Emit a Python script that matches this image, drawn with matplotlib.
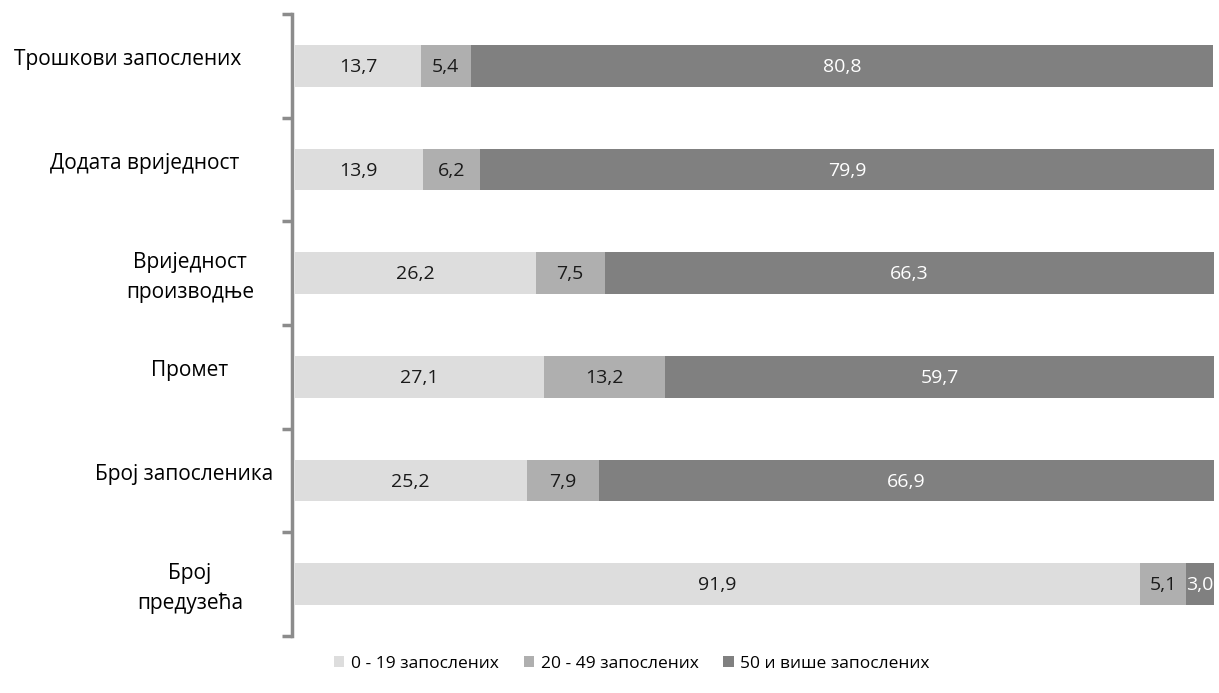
import matplotlib
matplotlib.use("Agg")
import matplotlib.pyplot as plt
from matplotlib.patches import Patch
import matplotlib.transforms as mtransforms

plt.rcParams['font.family'] = ['Open Sans', 'DejaVu Sans']

categories = ["Трошкови запослених", "Додата вриједност", "Вриједност\nпроизводње",
              "Промет", "Број запосленика", "Број\nпредузећа"]
s_small = [13.7, 13.9, 26.2, 27.1, 25.2, 91.9]
s_mid = [5.4, 6.2, 7.5, 13.2, 7.9, 5.1]
s_large = [80.8, 79.9, 66.3, 59.7, 66.9, 3.0]
series_names = ["0 - 19 запослених", "20 - 49 запослених", "50 и више запослених"]
colors = ["#DDDDDD", "#AFAFAF", "#808080"]
text_colors = ["#1a1a1a", "#1a1a1a", "white"]
label_centers_px = [128, 145, 190, 190, 184, 190]

W, H = 1219, 693
fig = plt.figure(figsize=(W / 100, H / 100), dpi=100)
ax = fig.add_axes([295 / W, 1 - 636 / H, (1214 - 295) / W, (636 - 14) / H])

n = len(categories)
ypos = list(range(n))
series = [s_small, s_mid, s_large]
left = [0.0] * n
for vals, col, tcol in zip(series, colors, text_colors):
    ax.barh(ypos, vals, left=left, height=0.4, color=col, edgecolor='none')
    for i, (l, v) in enumerate(zip(left, vals)):
        ax.text(l + v / 2, i + 0.01, f"{v:.1f}".replace('.', ','), ha='center', va='center',
                color=tcol, fontsize=14, clip_on=True)
    left = [a + b for a, b in zip(left, vals)]

ax.set_xlim(0, 100)
ax.set_ylim(n - 0.5, -0.5)
ax.set_xticks([])
ax.set_yticks([i - 0.5 for i in range(n + 1)])
ax.set_yticklabels([])
ax.tick_params(axis='y', length=7, width=2.5, color='#8c8c8c', direction='out')
for s in ['top', 'right', 'bottom']:
    ax.spines[s].set_visible(False)
ax.spines['left'].set_color('#8c8c8c')
ax.spines['left'].set_linewidth(2.5)
ax.spines['left'].set_position(('outward', 2))

trans = mtransforms.blended_transform_factory(fig.transFigure, ax.transData)
for i, (cat, cx) in enumerate(zip(categories, label_centers_px)):
    dy = 0.04 if "\n" in cat else -0.06
    ax.text(cx / W, i + dy, cat, transform=trans, ha='center', va='center',
            multialignment='center', fontsize=15, color='black', linespacing=1.55,
            clip_on=False)

handles = [Patch(facecolor=c, edgecolor='none') for c in colors]
fig.legend(handles, series_names, loc='center', bbox_to_anchor=(632 / W, 1 - 664 / H),
           ncol=3, frameon=False, fontsize=12.5, handlelength=0.6, handleheight=0.6,
           handletextpad=0.4, columnspacing=1.4)

fig.savefig("out.png", dpi=100)
